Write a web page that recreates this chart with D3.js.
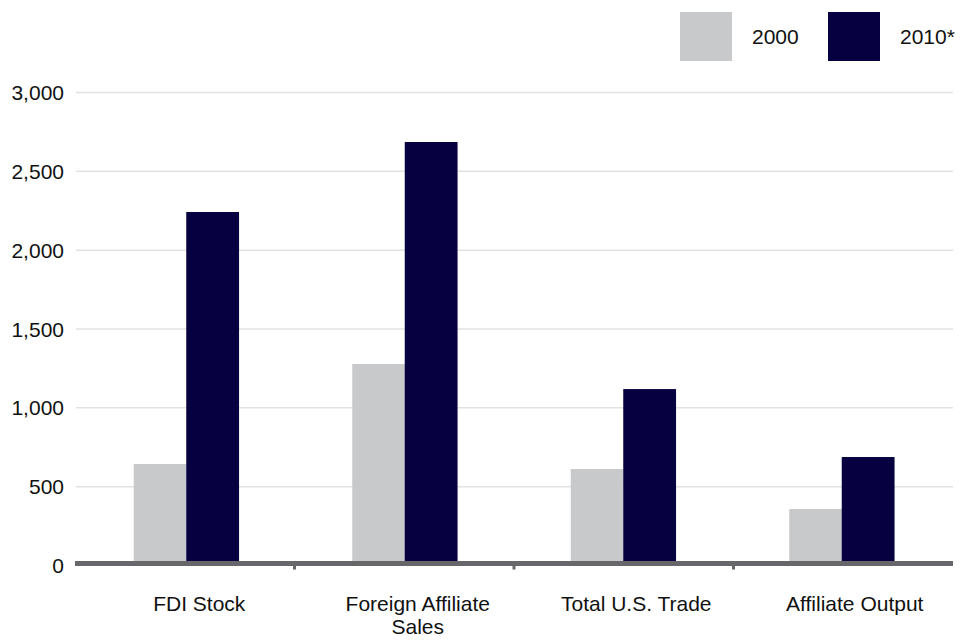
<!DOCTYPE html>
<html>
<head>
<meta charset="utf-8">
<script src="https://d3js.org/d3.v7.min.js"></script>
<style>
  body { margin: 0; background: #fff; }
  text { font-family: "Liberation Sans", Arial, sans-serif; fill: #111; }
</style>
</head>
<body>
<div id="chart"></div>
<script>
const categories = ['FDI Stock', 'Foreign Affiliate Sales', 'Total U.S. Trade', 'Affiliate Output'];
const categoryLines = [['FDI Stock'], ['Foreign Affiliate', 'Sales'], ['Total U.S. Trade'], ['Affiliate Output']];
const seriesNames = ['2000', '2010*'];
const values2000 = [644, 1278, 612, 358];
const values2010 = [2242, 2686, 1119, 688];
const yTicks = [0, 500, 1000, 1500, 2000, 2500, 3000];
const colors = ['#c8c9cb', '#060040'];

const width = 962, height = 640;
const svg = d3.select('#chart').append('svg')
    .attr('width', width)
    .attr('height', height);

const y = d3.scaleLinear().domain([0, 3000]).range([565.5, 92.5]);

// axis bands (tick marks) and bar bands
const xAxis = d3.scaleBand().domain(categories).range([75, 953]);
const x = d3.scaleBand().domain(categories).range([77, 951]);
const xInner = d3.scaleBand().domain(seriesNames).range([0, 105]);

// gridlines
svg.selectAll('.grid')
    .data(yTicks.filter(d => d > 0))
    .enter()
    .append('line')
    .attr('x1', 76).attr('x2', 953)
    .attr('y1', d => y(d)).attr('y2', d => y(d))
    .attr('stroke', '#e2e2e2')
    .attr('stroke-width', 1.5);

svg.selectAll('.ylabel')
    .data(yTicks)
    .enter()
    .append('text')
    .attr('x', 64)
    .attr('y', d => y(d))
    .attr('dy', '0.36em')
    .attr('text-anchor', 'end')
    .style('font-size', '21px')
    .text(d => d3.format(',')(d));

// bars
const data = categories.map((c, i) => ({ cat: c, vals: [values2000[i], values2010[i]] }));
const groups = svg.selectAll('.grp')
    .data(data)
    .enter()
    .append('g')
    .attr('transform', d => `translate(${x(d.cat) + x.bandwidth() / 2 - 52.5},0)`);

groups.selectAll('rect')
    .data(d => d.vals.map((v, i) => ({ s: seriesNames[i], v: v, i: i })))
    .enter()
    .append('rect')
    .attr('x', d => xInner(d.s))
    .attr('width', xInner.bandwidth() + 0.3)
    .attr('y', d => y(d.v))
    .attr('height', d => y(0) - y(d.v))
    .attr('fill', d => colors[d.i]);

// baseline axis
svg.append('line')
    .attr('x1', 75).attr('x2', 953)
    .attr('y1', y(0) - 2).attr('y2', y(0) - 2)
    .attr('stroke', '#67676b')
    .attr('stroke-width', 5);

svg.selectAll('.tick')
    .data(categories.slice(1))
    .enter()
    .append('line')
    .attr('x1', d => xAxis(d)).attr('x2', d => xAxis(d))
    .attr('y1', y(0)).attr('y2', y(0) + 4)
    .attr('stroke', '#67676b')
    .attr('stroke-width', 3);

// category labels
const labels = svg.selectAll('.xlabel')
    .data(categories)
    .enter()
    .append('text')
    .attr('text-anchor', 'middle')
    .style('font-size', '21px');

labels.selectAll('tspan')
    .data((d, i) => categoryLines[i].map(t => ({ t: t, cat: d })))
    .enter()
    .append('tspan')
    .attr('x', d => x(d.cat) + x.bandwidth() / 2 + 13)
    .attr('y', (d, j) => 611 + j * 23)
    .text(d => d.t);

// legend
const legendX = [680, 828];
const legend = svg.selectAll('.leg')
    .data(seriesNames)
    .enter()
    .append('g')
    .attr('transform', (d, i) => `translate(${legendX[i]},12)`);

legend.append('rect')
    .attr('width', 52)
    .attr('height', 49)
    .attr('fill', (d, i) => colors[i]);

legend.append('text')
    .attr('x', 72)
    .attr('y', 24.5)
    .attr('dy', '0.36em')
    .style('font-size', '21px')
    .text(d => d);
</script>
</body>
</html>
